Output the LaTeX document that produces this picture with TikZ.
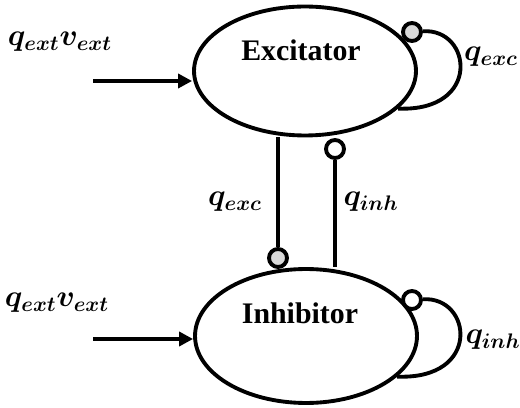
\documentclass[tikz,border=0pt]{standalone}
\usepackage{amsmath}
\usepackage{bm}
\usepackage{fontspec}
\setmainfont{Liberation Serif}
\usetikzlibrary{arrows.meta,positioning,shapes.geometric}

\begin{document}
\begin{tikzpicture}[x=0.02cm, y=-0.02cm,
    pop/.style={ellipse, draw, line width=2.2pt, minimum width=4.44cm, inner sep=0pt},
    synexc/.style={circle, draw, line width=2.2pt, fill=gray!30, minimum size=0.36cm, inner sep=0pt},
    syninh/.style={circle, draw, line width=2.2pt, fill=white, minimum size=0.36cm, inner sep=0pt},
    wire/.style={line width=2.2pt},
    popname/.style={font=\fontsize{17}{20}\selectfont\bfseries},
    rate/.style={font=\fontsize{18}{20}\selectfont}]

    \useasboundingbox (0,0) rectangle (520,408);

    % Excitatory population
    \node[pop, minimum height=2.58cm] (exc) at (305,71) {};
    \node[popname] (exct) at (301,50) {Excitator};

    % Inhibitory population
    \node[pop, minimum height=2.68cm] (inh) at (306,336) {};
    \node[popname] (inht) at (300,313) {Inhibitor};

    % External drive
    \coordinate (extA) at (93,81);
    \coordinate (extB) at (93,339);
    \draw[wire, -{Triangle[length=8pt,width=8pt]}] (extA) -- (extA -| exc.west);
    \draw[wire, -{Triangle[length=8pt,width=8pt]}] (extB) -- (extB -| inh.west);
    \node[rate] (extlA) at (60,42) {$\bm{q_{ext}v_{ext}}$};
    \node[rate] (extlB) at (57,303) {$\bm{q_{ext}v_{ext}}$};

    % Cross coupling
    \node[synexc] (ei) at (278,258) {};
    \node[syninh] (ie) at (335,149) {};
    \draw[wire] (ei) -- (ei |- exc.south);
    \draw[wire] (ie) -- (ie |- inh.north);
    \node[rate] (eil) at (235,202) {$\bm{q_{exc}}$};
    \node[rate] (iel) at (371,202) {$\bm{q_{inh}}$};

    % Self coupling
    \node[synexc] (ee) at (412,32) {};
    \node[syninh] (ii) at (412,300) {};
    \draw[wire] (ee) .. controls (472,28) and (482,112) .. (exc.-22);
    \draw[wire] (ii) .. controls (472,296) and (482,380) .. (inh.-24);
    \node[rate] (eel) at (491,57) {$\bm{q_{exc}}$};
    \node[rate] (iil) at (493,340) {$\bm{q_{inh}}$};
\end{tikzpicture}
\end{document}
